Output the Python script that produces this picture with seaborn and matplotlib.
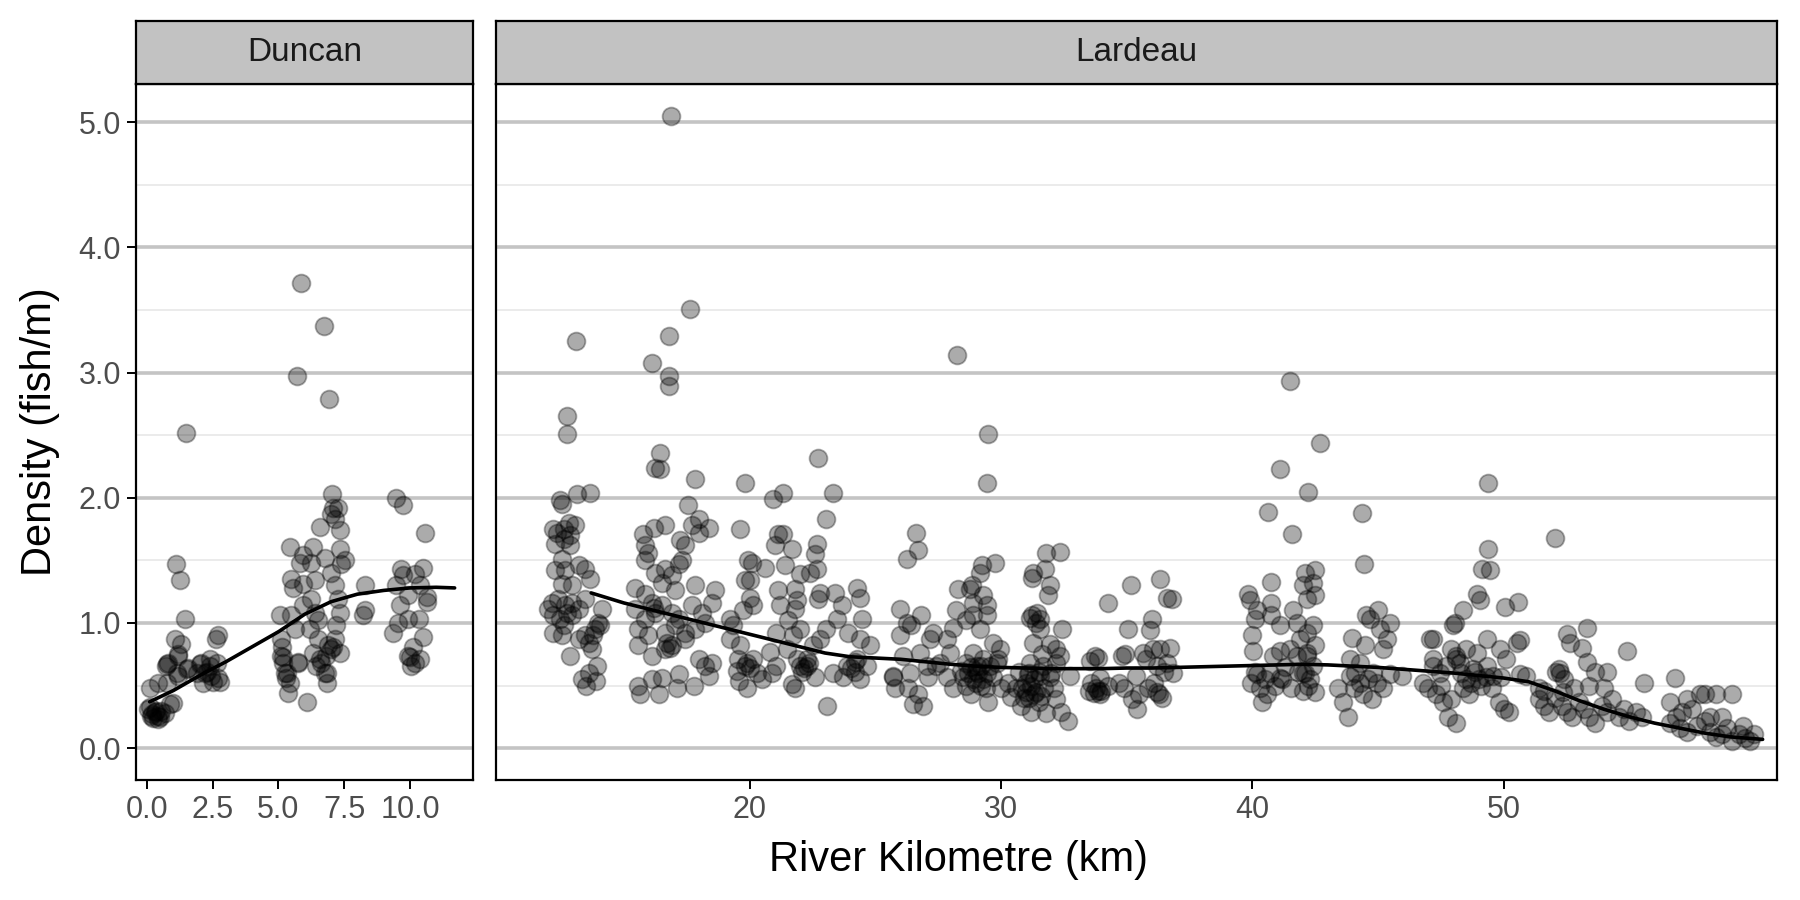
import matplotlib
matplotlib.use("Agg")
import matplotlib.pyplot as plt
import seaborn as sns
import pandas as pd
import numpy as np

# ---------------- data ----------------
duncan_pts = [
    5.71,2.97, 6.91,2.79, 1.50,2.52, 7.04,2.03, 7.07,1.92, 7.27,1.92, 7.01,1.87, 7.14,1.83, 6.57,1.77, 7.33,1.74, 9.48,2.00, 9.74,1.94,
    5.43,1.61, 6.31,1.61, 5.93,1.54, 5.81,1.48, 6.25,1.48, 6.76,1.52, 7.33,1.59, 7.52,1.50, 7.39,1.47, 7.01,1.40,
    5.49,1.35, 5.55,1.28, 5.93,1.31, 6.38,1.34, 5.93,1.14, 6.25,1.19, 6.38,1.08, 6.50,1.02, 6.19,0.95, 5.62,0.95, 5.11,0.87, 5.05,1.06, 5.49,1.06,
    7.14,1.30, 7.27,1.19, 7.33,1.08, 7.20,0.98, 7.14,0.87, 7.01,0.79, 6.82,0.74, 6.63,0.68, 6.76,0.60, 6.44,0.66, 6.88,0.82, 6.50,0.87,
    5.11,0.74, 5.17,0.68, 5.74,0.68, 5.24,0.60, 5.30,0.56,
    8.28,1.30, 8.28,1.10, 8.22,1.06,
    9.67,1.43, 9.74,1.38, 9.48,1.30, 9.61,1.14, 9.55,1.00, 9.36,0.92, 9.93,1.22, 9.93,1.03, 9.93,0.74, 10.05,0.66,
    1.12,1.47, 1.24,1.34, 1.43,1.03,
    1.05,0.87, 1.30,0.83, 1.18,0.74, 0.80,0.68, 0.73,0.66, 1.56,0.64, 1.18,0.58, 2.07,0.68, 2.38,0.66, 2.70,0.90, 2.64,0.87, 2.19,0.60, 2.70,0.56, 2.45,0.58,
    0.11,0.48, 0.43,0.52, 0.75,0.67, 1.19,0.75, 1.13,0.60, 1.51,0.63, 0.75,0.52,
    0.11,0.33, 0.30,0.29, 0.49,0.25, 0.68,0.28, 0.87,0.35, 1.00,0.36, 0.43,0.23, 0.02,0.31, 0.24,0.24,
    0.20,0.27, 0.35,0.30, 0.55,0.30, 0.15,0.26, 0.40,0.26,
    2.02,0.67, 2.27,0.61, 2.52,0.53, 2.78,0.53, 2.14,0.52, 2.40,0.71, 2.65,0.68, 1.89,0.60,
    5.18,0.73, 5.31,0.60, 5.44,0.52, 5.37,0.44, 5.75,0.69, 6.07,0.37, 5.12,0.81,
    6.33,0.76, 6.58,0.71, 6.84,0.60, 6.84,0.52, 7.09,0.81, 7.34,0.76,
    10.00,0.73, 10.19,0.68, 10.13,0.81,
    5.85,3.72, 6.72,3.37, 10.20,1.39, 10.50,1.44, 10.40,1.30, 10.65,1.21, 10.57,1.72, 10.35,1.03, 10.50,0.89, 10.40,0.71, 10.65,1.17,
]
duncan_km = duncan_pts[0::2]
duncan_density = duncan_pts[1::2]

lardeau_pts = [
    16.88,5.05, 17.64,3.51, 16.80,3.29, 16.11,3.08, 13.09,3.25, 16.78,2.97, 16.78,2.89, 12.73,2.65, 12.73,2.51, 16.44,2.36, 16.24,2.24, 16.44,2.23, 17.84,2.15,
    12.47,1.98, 12.55,1.95, 13.13,2.03, 13.66,2.04,
    12.20,1.75, 12.33,1.72, 12.60,1.75, 12.80,1.80, 13.06,1.78, 12.86,1.70, 12.60,1.67, 12.27,1.63, 12.86,1.62,
    12.53,1.51, 12.27,1.42, 12.67,1.42, 13.20,1.46, 13.46,1.43, 13.66,1.35, 12.53,1.31, 12.93,1.30,
    12.14,1.16, 12.40,1.19, 12.67,1.14, 12.93,1.16, 13.20,1.11, 12.20,1.06, 12.47,1.03, 12.73,1.08, 12.00,1.11, 12.93,1.06, 13.46,1.19, 12.60,0.98, 12.20,0.92, 12.53,0.90,
    14.12,1.11, 13.99,1.00, 13.86,0.95, 13.46,0.90, 13.20,0.87, 13.60,0.84, 13.73,0.79, 12.86,0.74, 13.92,0.66, 13.60,0.60, 13.33,0.55, 13.79,0.90, 14.06,0.98,
    13.50,0.50, 13.90,0.54,
    17.97,1.83, 17.70,1.78, 18.37,1.76, 17.97,1.72, 17.57,1.94,
    15.78,1.71, 16.18,1.76, 16.64,1.78, 15.85,1.62, 15.98,1.56, 15.85,1.50,
    17.24,1.66, 17.44,1.62, 17.18,1.47, 17.31,1.50, 16.64,1.43, 16.25,1.40, 16.91,1.38, 16.51,1.32, 17.04,1.26, 15.45,1.28, 15.85,1.23, 16.11,1.16, 16.51,1.14,
    16.25,1.08, 16.91,1.08, 17.18,1.03, 15.85,1.03, 15.45,1.11, 15.58,0.95, 15.98,0.90, 16.64,0.92, 17.04,0.98, 15.58,0.82, 16.11,0.74, 16.64,0.79, 16.91,0.82,
    17.44,0.87, 17.84,1.30, 18.63,1.26, 18.50,1.16, 17.70,1.14, 18.10,1.08, 18.23,1.00, 17.84,0.95, 17.44,0.92,
    17.97,0.71, 18.23,0.66, 18.50,0.68, 18.37,0.58, 17.18,0.59, 16.11,0.55, 16.51,0.56, 19.23,1.03, 19.23,0.87,
    17.10,0.48, 16.40,0.43, 15.66,0.43, 15.57,0.50, 17.80,0.50, 16.20,1.12, 16.84,0.80, 16.70,0.84,
    19.81,2.12, 19.61,1.75, 20.94,1.99, 21.34,2.04, 21.14,1.71, 21.34,1.71, 21.00,1.62, 21.67,1.59, 21.40,1.46, 22.73,2.32, 23.33,2.04, 23.06,1.83,
    22.67,1.63, 22.60,1.55, 22.00,1.39, 22.40,1.40, 22.67,1.43, 20.08,1.48, 19.95,1.50, 20.61,1.44,
    19.81,1.34, 20.01,1.34, 20.01,1.20, 20.14,1.14, 19.75,1.10,
    21.14,1.26, 21.80,1.27, 21.87,1.18, 21.20,1.14, 21.80,1.11, 21.54,1.02, 21.07,0.92, 21.73,0.90, 22.00,0.95,
    22.80,1.24, 22.73,1.19, 23.39,1.24, 23.66,1.14, 23.46,1.03, 23.06,0.95, 22.80,0.87, 22.53,0.82, 22.27,0.71, 22.00,0.66,
    24.26,1.28, 24.39,1.20, 24.46,1.03, 23.92,0.92, 24.39,0.87, 24.79,0.82, 24.26,0.71, 24.66,0.66, 23.86,0.66,
    19.35,0.98, 19.61,0.82, 19.55,0.71, 19.88,0.68, 20.14,0.71, 20.28,0.60, 20.81,0.77, 21.07,0.66, 21.47,0.79, 21.87,0.71, 22.27,0.66,
    19.90,0.48, 19.60,0.54, 21.70,0.51, 21.80,0.48, 23.10,0.34, 22.10,0.61, 23.70,0.57, 24.20,0.61, 24.40,0.55, 23.30,0.60, 22.60,0.57, 20.50,0.55, 20.90,0.60, 19.50,0.62,
    22.15,0.64, 22.35,0.68, 24.05,0.64, 24.20,0.69, 19.80,0.66, 20.00,0.64,
    25.98,1.11, 26.84,1.06, 26.44,0.98, 26.25,1.00, 25.98,0.90,
    26.64,1.72, 26.71,1.58, 26.25,1.51,
    27.30,0.92, 27.17,0.87, 27.84,0.87, 28.10,0.96, 27.97,0.76, 27.58,0.68, 27.04,0.66, 26.78,0.76, 26.11,0.74, 25.71,0.58, 26.38,0.60,
    29.49,2.51, 29.43,2.12, 28.26,3.14,
    29.23,1.46, 29.16,1.40, 29.76,1.48,
    28.83,1.30, 28.76,1.27, 28.30,1.27, 29.29,1.22, 28.90,1.16, 28.23,1.10, 29.43,1.14, 28.90,1.06, 29.43,1.06, 28.63,1.02, 29.16,0.95,
    29.69,0.84, 29.96,0.79, 28.90,0.76, 29.29,0.71, 29.03,0.66, 29.56,0.66, 28.63,0.68, 29.83,0.68,
    29.00,0.52, 29.40,0.48, 28.50,0.57, 29.70,0.57, 28.80,0.43, 29.50,0.37, 28.10,0.48, 29.20,0.66, 29.90,0.71, 27.85,0.57, 27.40,0.66, 27.10,0.57,
    26.30,0.48, 26.70,0.43, 26.50,0.35, 26.90,0.34, 25.80,0.48, 25.70,0.57,
    28.70,0.60, 28.90,0.55, 29.10,0.60, 29.30,0.55, 28.60,0.50, 29.00,0.62, 29.20,0.50, 28.40,0.62, 28.80,0.65, 29.45,0.60,
    31.81,1.56, 32.34,1.57,
    31.28,1.40, 31.75,1.43, 31.22,1.36, 31.94,1.30, 31.88,1.22,
    31.42,1.08, 31.15,1.04, 31.55,1.03, 31.55,0.95, 32.41,0.95,
    31.28,0.84, 31.94,0.83, 32.21,0.79, 31.62,0.75, 32.34,0.74, 31.15,0.68, 31.68,0.66, 32.21,0.68, 31.08,0.59, 31.55,0.58, 32.74,0.58, 32.01,0.60,
    30.00,0.48, 30.40,0.41, 30.60,0.48, 31.00,0.52, 31.30,0.43, 31.50,0.37, 31.70,0.48, 31.95,0.57, 32.20,0.39, 32.40,0.29, 32.65,0.22, 31.20,0.29,
    30.80,0.34, 30.30,0.52, 31.50,0.61, 30.70,0.61, 31.80,0.28, 32.10,0.48, 31.10,0.40,
    31.00,0.45, 31.20,0.50, 31.40,0.45, 30.90,0.40, 31.30,0.55, 31.10,0.60, 30.85,0.48, 31.60,0.42, 31.40,1.00, 31.25,1.06,
    34.26,1.16, 35.19,1.30, 36.32,1.35, 36.59,1.20, 36.79,1.19, 35.06,0.95, 35.99,1.03, 35.92,0.94,
    33.73,0.74, 33.87,0.72, 33.54,0.70, 34.93,0.75, 34.80,0.74,
    35.66,0.76, 36.05,0.79, 36.32,0.79, 36.72,0.80, 35.79,0.71, 36.19,0.66, 36.59,0.68, 36.85,0.60, 35.39,0.58, 33.93,0.56,
    33.60,0.52, 33.80,0.48, 34.00,0.46, 34.25,0.50, 34.70,0.52, 34.90,0.48, 35.20,0.39, 35.40,0.31, 35.50,0.43, 35.85,0.48, 36.10,0.52, 36.30,0.43,
    36.50,0.61, 33.50,0.46, 33.95,0.43, 33.70,0.44, 33.85,0.46, 36.20,0.45, 36.40,0.40,
    41.49,2.93, 41.09,2.23, 40.63,1.89, 41.56,1.71, 40.76,1.33, 42.09,1.40,
    39.83,1.23, 39.90,1.18, 40.17,1.10, 40.10,1.03, 40.76,1.16, 40.76,1.06, 41.09,0.98, 41.62,1.10, 41.76,1.00, 42.02,1.30, 42.16,1.19,
    39.97,0.90, 40.03,0.78, 40.83,0.74, 41.09,0.78, 41.49,0.79, 41.89,0.87, 41.76,0.74, 42.16,0.76, 40.17,0.59, 41.09,0.56, 42.02,0.60,
    42.22,2.05, 42.69,2.44, 42.49,1.42, 42.42,1.32, 42.49,1.22, 42.42,0.98, 42.16,0.92, 42.49,0.82, 42.16,0.74, 42.42,0.66, 42.09,0.60,
    39.95,0.52, 40.30,0.48, 40.60,0.43, 40.90,0.50, 41.20,0.55, 41.55,0.48, 42.00,0.46, 42.20,0.50, 40.10,0.61, 41.80,0.61, 40.40,0.37,
    40.50,0.55, 40.70,0.60, 41.30,0.65, 42.30,0.55, 42.50,0.45,
    44.38,1.88, 44.44,1.47,
    44.54,1.06, 45.00,1.10, 45.47,1.00, 45.07,0.95, 45.34,0.87, 44.67,1.03, 45.20,0.79, 43.95,0.88, 44.48,0.82, 43.88,0.71, 44.28,0.68, 44.81,0.60,
    45.47,0.59, 45.94,0.58, 43.88,0.58,
    44.06,0.48, 44.40,0.43, 44.75,0.39, 43.60,0.37, 43.80,0.25, 43.40,0.48, 44.96,0.52, 45.20,0.48, 44.30,0.52, 44.10,0.60, 44.60,0.55,
    49.38,2.12, 49.38,1.59, 49.12,1.43, 49.45,1.42,
    48.92,1.23, 49.05,1.18, 48.38,1.10, 48.05,1.00, 47.99,0.98, 50.05,1.13, 50.57,1.17,
    47.19,0.87, 47.06,0.87, 47.19,0.71, 47.92,0.79, 48.12,0.74, 48.52,0.79, 47.72,0.66, 48.25,0.68, 48.92,0.76, 49.32,0.87, 49.84,0.79, 50.51,0.84,
    50.64,0.86, 50.11,0.71, 49.32,0.66, 48.78,0.63, 49.58,0.58, 50.64,0.59, 50.90,0.58, 47.45,0.60, 47.19,0.66,
    46.80,0.52, 47.00,0.48, 47.30,0.43, 47.60,0.37, 47.80,0.25, 48.10,0.20, 47.90,0.39, 48.40,0.48, 48.60,0.43, 49.10,0.50, 49.55,0.48, 49.80,0.37,
    50.00,0.31, 50.20,0.29, 49.30,0.57, 48.85,0.61, 49.90,0.57, 48.10,0.71, 48.50,0.55, 48.70,0.52, 48.30,0.60, 49.00,0.55, 47.50,0.50,
    52.05,1.68, 52.50,0.91, 52.65,0.84, 53.30,0.96, 53.10,0.80, 53.30,0.69, 53.65,0.61, 54.10,0.61, 54.90,0.78,
    51.40,0.39, 51.60,0.34, 51.80,0.29, 52.05,0.40, 52.30,0.34, 52.20,0.63, 52.10,0.61, 52.50,0.29, 52.70,0.25, 53.00,0.37, 53.20,0.31, 53.40,0.25,
    53.65,0.20, 53.90,0.34, 54.10,0.29, 54.30,0.39, 54.60,0.25, 54.80,0.31, 55.00,0.22, 55.25,0.29, 55.50,0.25, 55.60,0.52, 54.00,0.48, 53.40,0.50,
    52.80,0.48, 52.35,0.45, 51.60,0.46, 51.40,0.48, 52.25,0.60, 52.40,0.55,
    56.80,0.56, 57.80,0.43, 58.00,0.43, 58.45,0.43, 59.10,0.43, 57.30,0.39, 57.10,0.29, 56.85,0.25, 56.60,0.20, 57.00,0.16, 57.30,0.13, 57.70,0.18,
    58.00,0.22, 58.20,0.13, 58.45,0.09, 58.70,0.11, 58.90,0.16, 59.10,0.06, 59.35,0.11, 59.60,0.08, 59.80,0.06, 59.95,0.11, 59.50,0.18, 58.20,0.25,
    58.70,0.25, 57.50,0.31, 56.60,0.37,
]
lardeau_km = lardeau_pts[0::2]
lardeau_density = lardeau_pts[1::2]

# smoothed trend lines
duncan_smooth_km = [0.1, 1.0, 2.0, 3.0, 4.0, 5.0, 6.0, 7.0, 8.0, 9.0, 10.0, 11.0, 11.7]
duncan_smooth_density = [0.37, 0.46, 0.58, 0.69, 0.81, 0.93, 1.07, 1.17, 1.23, 1.26, 1.28, 1.285, 1.28]

lardeau_smooth_km = [13.7, 15, 16, 17, 18, 19, 20, 21, 22, 23, 24, 25, 26, 27, 28, 29, 30, 31, 32, 33, 34, 35,
                     36, 37, 38, 39, 40, 41, 42, 43, 44, 45, 46, 47, 48, 49, 50, 51, 52, 53, 54, 55, 56, 57,
                     58, 59, 60.3]
lardeau_smooth_density = [1.24, 1.16, 1.11, 1.06, 1.01, 0.96, 0.91, 0.86, 0.81, 0.76, 0.73, 0.72, 0.71, 0.69,
                          0.67, 0.655, 0.645, 0.64, 0.635, 0.635, 0.635, 0.64, 0.64, 0.645, 0.65, 0.655, 0.66,
                          0.665, 0.67, 0.665, 0.655, 0.645, 0.63, 0.615, 0.60, 0.58, 0.56, 0.53, 0.46, 0.38,
                          0.31, 0.25, 0.20, 0.16, 0.12, 0.09, 0.07]

panel_names = ["Duncan", "Lardeau"]
duncan_xticks = [0.0, 2.5, 5.0, 7.5, 10.0]
lardeau_xticks = [20, 30, 40, 50]
y_major = [0.0, 1.0, 2.0, 3.0, 4.0, 5.0]
y_minor = [0.5, 1.5, 2.5, 3.5, 4.5]

# ---------------- style ----------------
sns.set_theme(style="white")
plt.rcParams['font.family'] = ['Liberation Sans', 'DejaVu Sans']

fig = plt.figure(figsize=(18, 9), dpi=100)

bottom, height = 0.133, 0.7742
strip_bottom, strip_h = 0.9069, 0.0702
axD = fig.add_axes([0.0753, bottom, 0.1875, height])
axL = fig.add_axes([0.2755, bottom, 0.7117, height])

panels = [
    (axD, duncan_km, duncan_density, duncan_smooth_km, duncan_smooth_density, (-0.437, 12.40), duncan_xticks, "%.1f"),
    (axL, lardeau_km, lardeau_density, lardeau_smooth_km, lardeau_smooth_density, (9.91, 60.87), lardeau_xticks, "%d"),
]

for name, (ax, xs, ys, sx, sy, xlim, xt, fmt) in zip(panel_names, panels):
    df = pd.DataFrame({"km": xs, "density": ys})
    sm = pd.DataFrame({"km": sx, "density": sy})
    ax.set_facecolor("white")
    sns.scatterplot(data=df, x="km", y="density", ax=ax, s=165, color="black",
                    alpha=0.33, edgecolor="black", linewidth=1.3, zorder=3)
    sns.lineplot(data=sm, x="km", y="density", ax=ax, color="black", linewidth=2.6,
                 sort=False, estimator=None, zorder=4)
    ax.set_xlim(*xlim)
    ax.set_ylim(-0.257, 5.31)
    ax.set_xticks(xt)
    ax.set_xticklabels([fmt % v for v in xt])
    ax.set_yticks(y_major)
    ax.set_yticks(y_minor, minor=True)
    ax.set_yticklabels(["%.1f" % v for v in y_major])
    ax.grid(which="major", axis="y", color="#C4C4C4", linewidth=2.6)
    ax.grid(which="minor", axis="y", color="#E6E6E6", linewidth=1.1)
    ax.grid(which="major", axis="x", visible=False)
    ax.set_axisbelow(True)
    for sp in ax.spines.values():
        sp.set_color("black")
        sp.set_linewidth(1.6)
    ax.tick_params(which="major", axis="both", direction="out", length=6.5, width=1.4,
                   color="black", labelsize=22, labelcolor="#4D4D4D", pad=4,
                   bottom=True, left=True)
    ax.tick_params(which="minor", length=0)
    ax.set_xlabel("")
    ax.set_ylabel("")

    pos = ax.get_position()
    sax = fig.add_axes([pos.x0, strip_bottom, pos.width, strip_h])
    sax.set_facecolor("#C2C2C2")
    sax.set_xticks([])
    sax.set_yticks([])
    for sp in sax.spines.values():
        sp.set_color("black")
        sp.set_linewidth(1.6)
    sax.text(0.5, 0.5, name, ha="center", va="center", fontsize=24, color="#1A1A1A",
             transform=sax.transAxes)

axL.tick_params(axis="y", left=False, labelleft=False)

fig.text(0.5325, 0.045, "River Kilometre (km)", ha="center", va="center", fontsize=30, color="black")
fig.text(0.022, 0.52, "Density (fish/m)", ha="center", va="center", rotation=90, fontsize=30, color="black")

fig.savefig("out.png", dpi=100)
